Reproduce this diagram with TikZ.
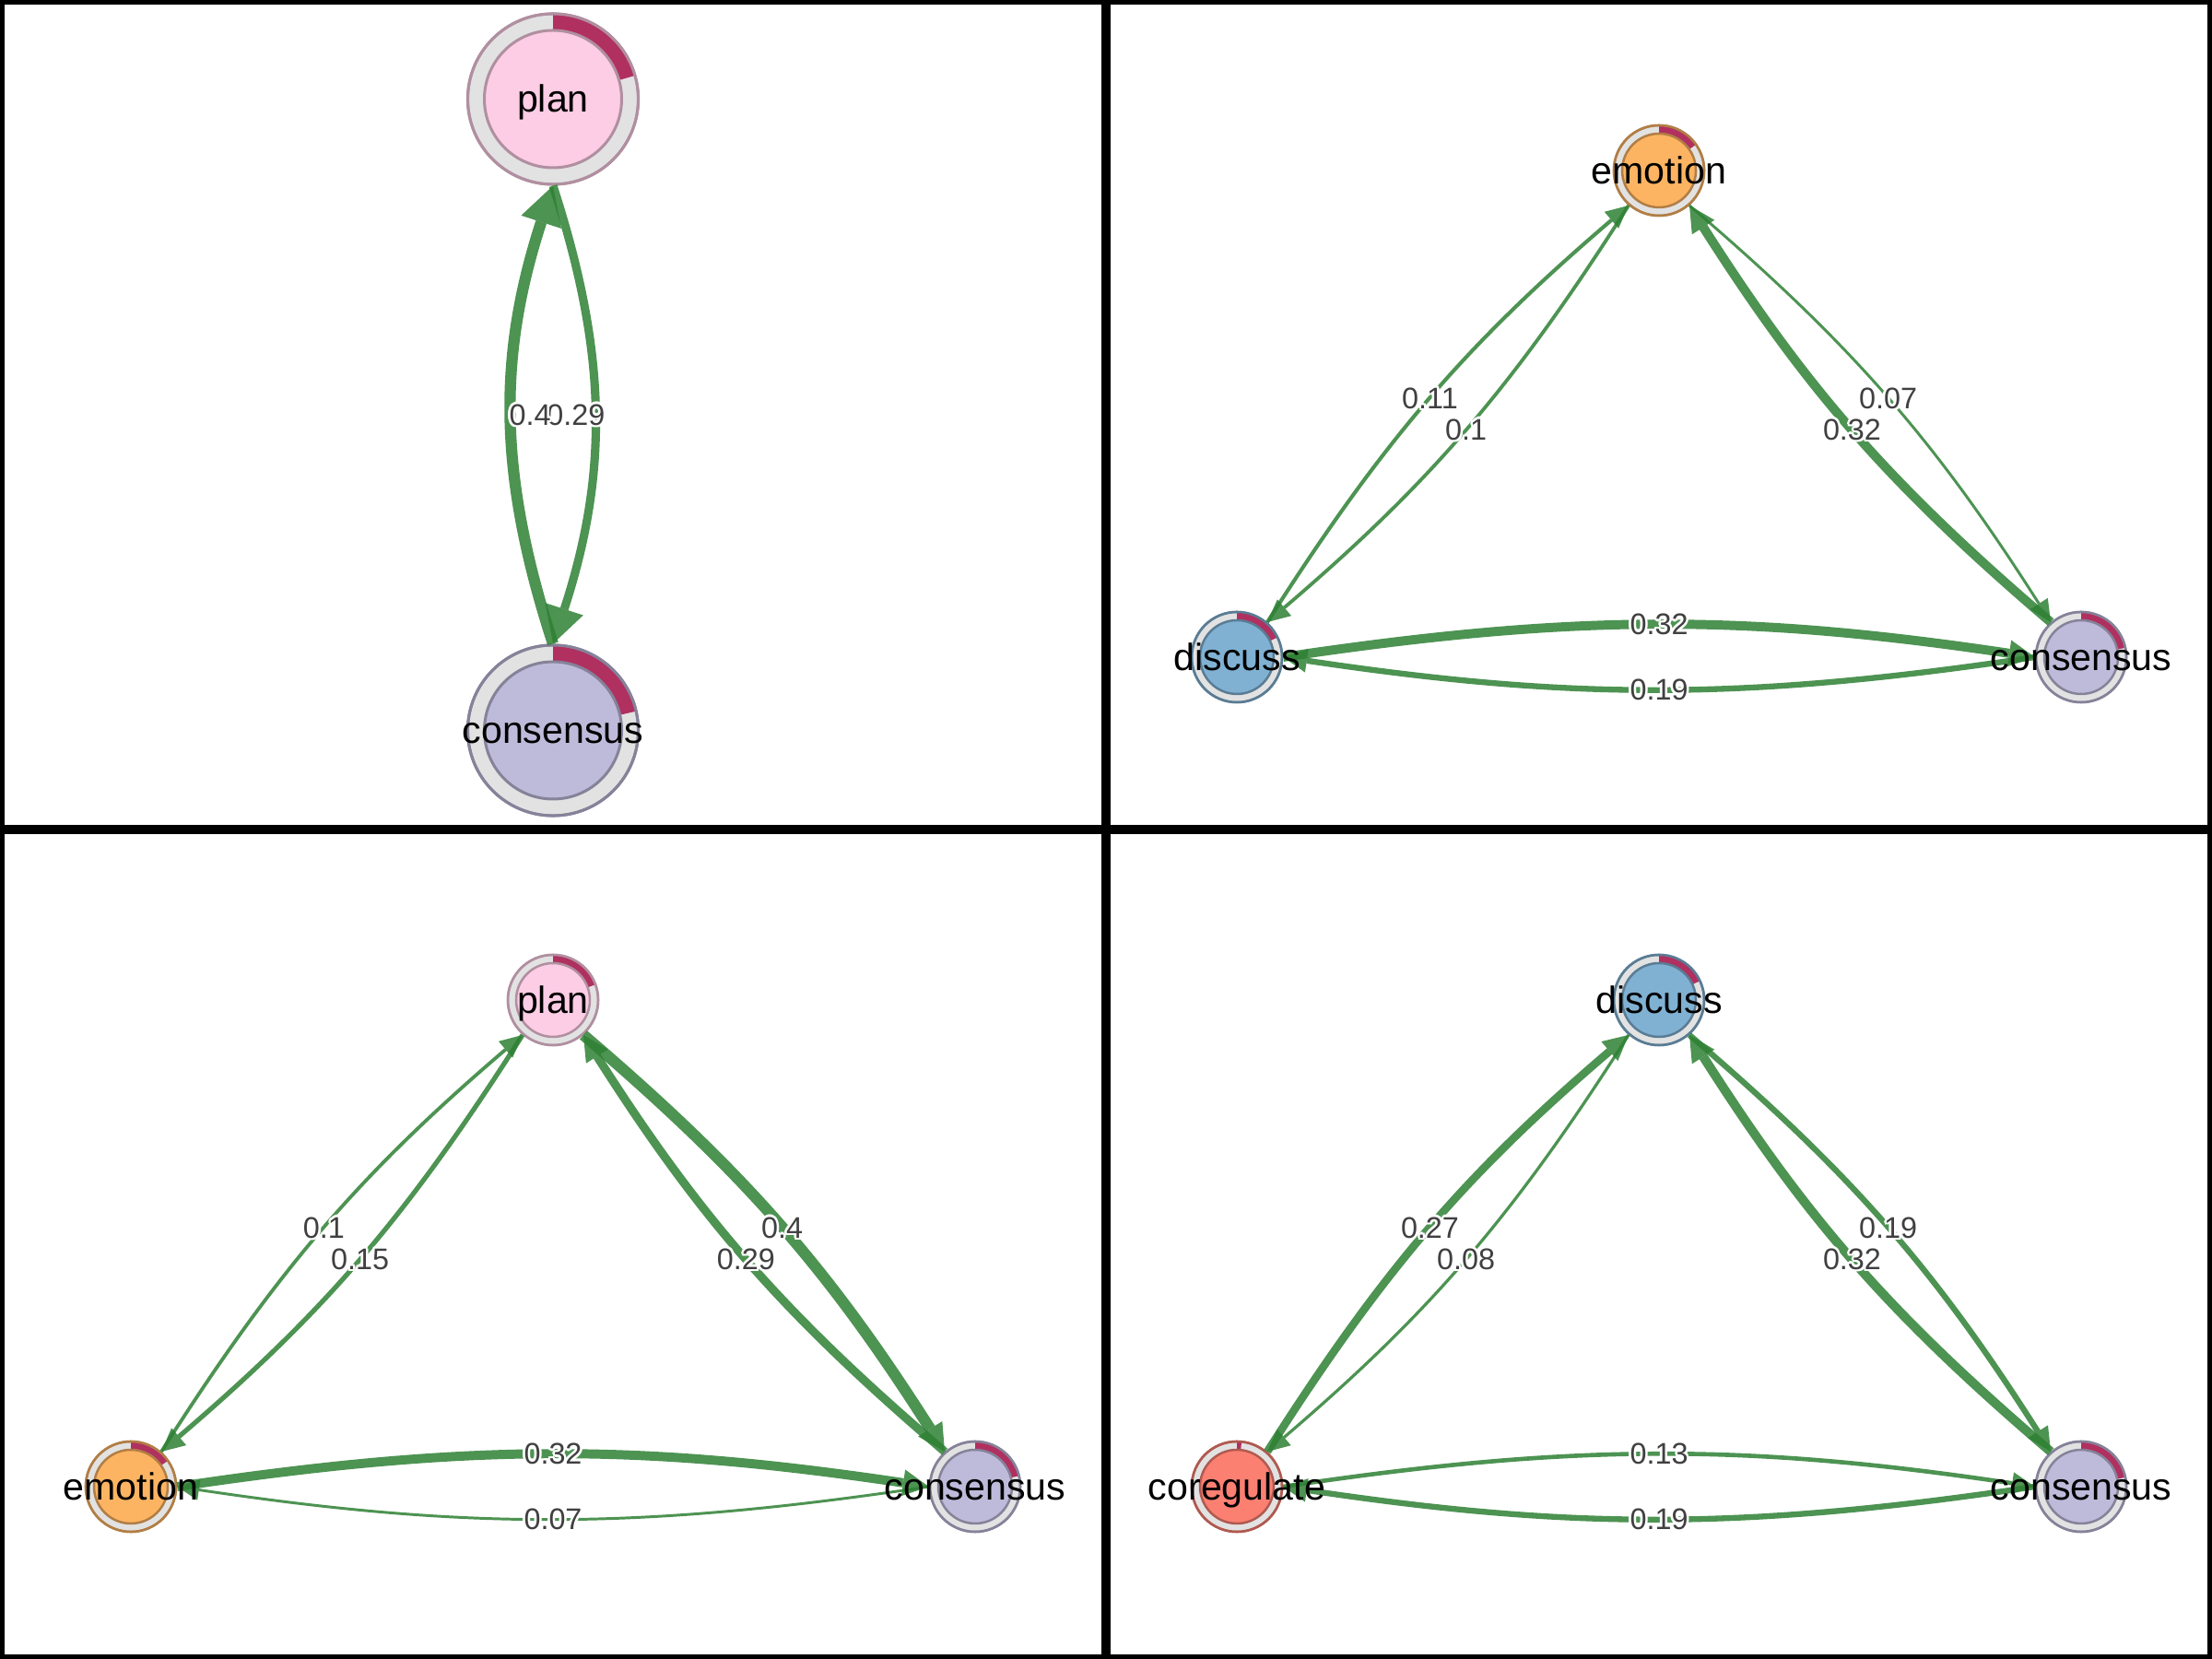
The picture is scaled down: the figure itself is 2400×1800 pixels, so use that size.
\documentclass[tikz,border=0pt]{standalone}
\usepackage{fontspec}
\setmainfont{Liberation Sans}
\usetikzlibrary{arrows.meta}
\definecolor{planfill}{HTML}{FCCDE5}
\definecolor{planborder}{HTML}{B08FA0}
\definecolor{emofill}{HTML}{FDB462}
\definecolor{emoborder}{HTML}{B17E45}
\definecolor{discfill}{HTML}{80B1D3}
\definecolor{discborder}{HTML}{5A7C94}
\definecolor{consfill}{HTML}{BEBADA}
\definecolor{consborder}{HTML}{858299}
\definecolor{corfill}{HTML}{FB8072}
\definecolor{corborder}{HTML}{B05A50}
\definecolor{ringgray}{HTML}{E2E2E2}
\definecolor{piered}{HTML}{B03060}
\definecolor{edgegreen}{RGB}{46,129,52}
\definecolor{labelgray}{RGB}{64,64,64}
\newcommand\halocopy[3]{\rlap{\kern#1\raise#2\hbox{\color{white}#3}}}
\newcommand\halo[1]{\halocopy{0.75pt}{0pt}{#1}\halocopy{-0.75pt}{0pt}{#1}\halocopy{0pt}{0.75pt}{#1}\halocopy{0pt}{-0.75pt}{#1}\halocopy{0.55pt}{0.55pt}{#1}\halocopy{-0.55pt}{0.55pt}{#1}\halocopy{0.55pt}{-0.55pt}{#1}\halocopy{-0.55pt}{-0.55pt}{#1}#1}
\def\nodelw{0.025cm}
% #1 name, #2 x, #3 y, #4 fill, #5 border, #6 pie end angle, #7 outer r, #8 inner r
\newcommand\tnanode[8]{%
  \node[circle, inner sep=0pt, minimum size=#7*0.02cm, fill=ringgray, draw=#5, line width=\nodelw] (#1) at (#2,#3) {};
  \fill[piered] ([shift={(90:#7)}]#1.center) arc[start angle=90, end angle=#6, radius=#7] -- ([shift={(#6:#8)}]#1.center) arc[start angle=#6, end angle=90, radius=#8] -- cycle;
  \draw[#5, line width=\nodelw] (#1.center) circle[radius=#7];
  \draw[fill=#4, draw=#5, line width=\nodelw] (#1.center) circle[radius=#8];
}
\begin{document}
\begin{tikzpicture}[x=0.01cm, y=0.01cm,
  nodelabel/.style={font=\fontsize{11.7pt}{13pt}\selectfont, text=black, inner sep=0pt, anchor=base, yshift=-0.145cm},
  elabel/.style={font=\fontsize{9.2pt}{10pt}\selectfont, text=labelgray, inner sep=0pt},
  tnaedge/.style={draw=edgegreen, opacity=0.85, line width=0.01cm+#1*0.28cm},
  smalltip/.style={-{Triangle[length=0.22cm 0.6, width=0.2cm 0.9, line width=0pt]}},
  bigtip/.style={-{Triangle[length=0.34cm 0.6, width=0.36cm 0.8, line width=0pt]}},
  frame/.style={draw=black, line width=0.1cm}]
\useasboundingbox (0,0) rectangle (2400,1800);
\fill[white] (0,0) rectangle (2400,1800);

% ---------- nodes ----------
\def\nodelw{0.03cm}
\tnanode{TLplan}{600}{1692.5}{planfill}{planborder}{16}{92.5}{74.5}
\tnanode{TLcons}{600}{1007.5}{consfill}{consborder}{13}{92.5}{74.5}
\def\nodelw{0.025cm}
\tnanode{TRemo}{1800}{1615}{emofill}{emoborder}{35}{49}{40}
\tnanode{TRdisc}{1342}{1087}{discfill}{discborder}{26}{49}{40}
\tnanode{TRcons}{2258}{1087}{consfill}{consborder}{12}{49}{40}
\tnanode{BLplan}{600}{715}{planfill}{planborder}{20}{49}{40}
\tnanode{BLemo}{142}{187}{emofill}{emoborder}{35}{49}{40}
\tnanode{BLcons}{1058}{187}{consfill}{consborder}{14}{49}{40}
\tnanode{BRdisc}{1800}{715}{discfill}{discborder}{25}{49}{40}
\tnanode{BRcor}{1342}{187}{corfill}{corborder}{84}{49}{40}
\tnanode{BRcons}{2258}{187}{consfill}{consborder}{12}{49}{40}

% ---------- edges: top-left ----------
\draw[tnaedge=0.4, bigtip] (TLcons.90) to[out=108, in=252] node[coordinate, pos=0.5] (mTL1) {} (TLplan.270);
\draw[tnaedge=0.29, bigtip] (TLplan.270) to[out=288, in=72] node[coordinate, pos=0.5] (mTL2) {} (TLcons.90);

% ---------- edges: top-right ----------
\draw[tnaedge=0.11, smalltip] (TRdisc.49) to[out=57.5, in=220.5] node[coordinate, pos=0.5] (mTR1) {} (TRemo.229);
\draw[tnaedge=0.1, smalltip] (TRemo.229) to[out=237.5, in=40.5] node[coordinate, pos=0.5] (mTR2) {} (TRdisc.49);
\draw[tnaedge=0.07, smalltip] (TRemo.-49) to[out=-40.5, in=122.5] node[coordinate, pos=0.5] (mTR3) {} (TRcons.131);
\draw[tnaedge=0.32, smalltip] (TRcons.131) to[out=139.5, in=-57.5] node[coordinate, pos=0.5] (mTR4) {} (TRemo.-49);
\draw[tnaedge=0.32, smalltip] (TRdisc.0) to[out=8.5, in=171.5] node[coordinate, pos=0.5] (mTR5) {} (TRcons.180);
\draw[tnaedge=0.19, smalltip] (TRcons.180) to[out=188.5, in=-8.5] node[coordinate, pos=0.5] (mTR6) {} (TRdisc.0);

% ---------- edges: bottom-left ----------
\draw[tnaedge=0.1, smalltip] (BLemo.49) to[out=57.5, in=220.5] node[coordinate, pos=0.5] (mBL1) {} (BLplan.229);
\draw[tnaedge=0.15, smalltip] (BLplan.229) to[out=237.5, in=40.5] node[coordinate, pos=0.5] (mBL2) {} (BLemo.49);
\draw[tnaedge=0.4, smalltip] (BLplan.-49) to[out=-40.5, in=122.5] node[coordinate, pos=0.5] (mBL3) {} (BLcons.131);
\draw[tnaedge=0.29, smalltip] (BLcons.131) to[out=139.5, in=-57.5] node[coordinate, pos=0.5] (mBL4) {} (BLplan.-49);
\draw[tnaedge=0.32, smalltip] (BLemo.0) to[out=8.5, in=171.5] node[coordinate, pos=0.5] (mBL5) {} (BLcons.180);
\draw[tnaedge=0.07, smalltip] (BLcons.180) to[out=188.5, in=-8.5] node[coordinate, pos=0.5] (mBL6) {} (BLemo.0);

% ---------- edges: bottom-right ----------
\draw[tnaedge=0.27, smalltip] (BRcor.49) to[out=57.5, in=220.5] node[coordinate, pos=0.5] (mBR1) {} (BRdisc.229);
\draw[tnaedge=0.08, smalltip] (BRdisc.229) to[out=237.5, in=40.5] node[coordinate, pos=0.5] (mBR2) {} (BRcor.49);
\draw[tnaedge=0.19, smalltip] (BRdisc.-49) to[out=-40.5, in=122.5] node[coordinate, pos=0.5] (mBR3) {} (BRcons.131);
\draw[tnaedge=0.32, smalltip] (BRcons.131) to[out=139.5, in=-57.5] node[coordinate, pos=0.5] (mBR4) {} (BRdisc.-49);
\draw[tnaedge=0.13, smalltip] (BRcor.0) to[out=8.5, in=171.5] node[coordinate, pos=0.5] (mBR5) {} (BRcons.180);
\draw[tnaedge=0.19, smalltip] (BRcons.180) to[out=188.5, in=-8.5] node[coordinate, pos=0.5] (mBR6) {} (BRcor.0);

% ---------- edge labels ----------
\node[elabel] (lTL2) at ([xshift=-0.2cm]mTL2) {\halo{0.29}};
\node[elabel] (lTL1) at ([xshift=0.2cm]mTL1) {\halo{0.4}};
\node[elabel] (lTR1) at (mTR1) {\halo{0.11}};
\node[elabel] (lTR2) at (mTR2) {\halo{0.1}};
\node[elabel] (lTR3) at (mTR3) {\halo{0.07}};
\node[elabel] (lTR4) at (mTR4) {\halo{0.32}};
\node[elabel] (lTR5) at (mTR5) {\halo{0.32}};
\node[elabel] (lTR6) at (mTR6) {\halo{0.19}};
\node[elabel] (lBL1) at (mBL1) {\halo{0.1}};
\node[elabel] (lBL2) at (mBL2) {\halo{0.15}};
\node[elabel] (lBL3) at (mBL3) {\halo{0.4}};
\node[elabel] (lBL4) at (mBL4) {\halo{0.29}};
\node[elabel] (lBL5) at (mBL5) {\halo{0.32}};
\node[elabel] (lBL6) at (mBL6) {\halo{0.07}};
\node[elabel] (lBR1) at (mBR1) {\halo{0.27}};
\node[elabel] (lBR2) at (mBR2) {\halo{0.08}};
\node[elabel] (lBR3) at (mBR3) {\halo{0.19}};
\node[elabel] (lBR4) at (mBR4) {\halo{0.32}};
\node[elabel] (lBR5) at (mBR5) {\halo{0.13}};
\node[elabel] (lBR6) at (mBR6) {\halo{0.19}};

% ---------- node labels ----------
\node[nodelabel] (tTLplan) at (TLplan) {plan};
\node[nodelabel] (tTLcons) at (TLcons) {consensus};
\node[nodelabel] (tTRemo) at (TRemo) {emotion};
\node[nodelabel] (tTRdisc) at (TRdisc) {discuss};
\node[nodelabel] (tTRcons) at (TRcons) {consensus};
\node[nodelabel] (tBLplan) at (BLplan) {plan};
\node[nodelabel] (tBLemo) at (BLemo) {emotion};
\node[nodelabel] (tBLcons) at (BLcons) {consensus};
\node[nodelabel] (tBRdisc) at (BRdisc) {discuss};
\node[nodelabel] (tBRcor) at (BRcor) {coregulate};
\node[nodelabel] (tBRcons) at (BRcons) {consensus};

% ---------- panel frames ----------
\draw[frame] (0,0) rectangle (2400,1800);
\draw[frame] (1200,0) -- (1200,1800);
\draw[frame] (0,900) -- (2400,900);
\end{tikzpicture}
\end{document}
